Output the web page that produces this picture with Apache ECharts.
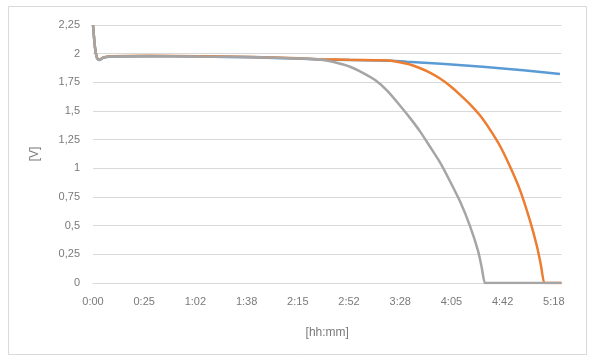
<!DOCTYPE html>
<html>
<head>
    <meta charset="utf-8">
    <script type="text/javascript" src="https://cdn.jsdelivr.net/npm/echarts@6/dist/echarts.min.js"></script>
    <style type="text/css">
        *{
            margin: 0;
            padding: 0;
        }
        #main{
            width: 597px;
            height: 362px;
            background: #ffffff;
        }
    </style>
</head>
<body>
    <div id="main"></div>
    <script type="text/javascript">
        // x = sample index (one tick label every 10 samples)
        var tickLabels = ['0:00', '0:25', '1:02', '1:38', '2:15', '2:52', '3:28', '4:05', '4:42', '5:18'];
        var yTicks = [0, 0.25, 0.5, 0.75, 1, 1.25, 1.5, 1.75, 2, 2.25];

        var blue = [
            [0, 2.25], [0.4, 2.05], [0.8, 1.96], [1.2, 1.945], [2, 1.963], [3.3, 1.974],
            [11, 1.978], [21, 1.975], [31, 1.968], [40, 1.957], [44, 1.95], [50, 1.945],
            [56, 1.94], [60, 1.934], [61.3, 1.93], [68, 1.912], [76.1, 1.886], [84, 1.856], [91.2, 1.822]
        ];
        var orange = [
            [0, 2.25], [0.4, 2.05], [0.8, 1.962], [1.2, 1.948], [2, 1.966], [3.3, 1.977],
            [11, 1.982], [21, 1.978], [31, 1.972], [40, 1.96], [44, 1.952], [50, 1.946],
            [55, 1.942], [58, 1.94], [59.9, 1.925], [61.9, 1.905], [63.8, 1.875], [65.8, 1.835],
            [67.7, 1.785], [69.7, 1.72], [71.6, 1.645], [73.6, 1.56], [75.6, 1.46], [77.5, 1.34],
            [79.5, 1.195], [81.4, 1.02], [83.4, 0.81], [85.3, 0.55], [86.7, 0.32], [87.5, 0.15],
            [88.1, 0], [88.2, 0], [91.5, 0]
        ];
        var gray = [
            [0, 2.25], [0.4, 2.05], [0.8, 1.96], [1.2, 1.945], [2, 1.965], [3.3, 1.975],
            [11, 1.98], [21, 1.975], [31, 1.97], [40, 1.958], [44.3, 1.95], [47.2, 1.925],
            [50.2, 1.886], [52.6, 1.835], [55.1, 1.77], [57.5, 1.675], [59.9, 1.55], [61.9, 1.44],
            [63.9, 1.32], [65.8, 1.19], [67.8, 1.05], [69.7, 0.89], [71.7, 0.71], [73.6, 0.5],
            [75.2, 0.28], [75.9, 0.14], [76.5, 0], [76.6, 0], [91.5, 0]
        ];

        var myChart = echarts.init(document.getElementById('main'));
        var labelFont = 'Liberation Sans';
        var option = {
            backgroundColor: '#ffffff',
            animation: false,
            graphic: [{
                type: 'rect',
                shape: {x: 8.5, y: 6.5, width: 578, height: 348},
                style: {fill: 'none', stroke: '#d9d9d9', lineWidth: 1}
            }],
            grid: {
                left: 93,
                right: 35.5,
                top: 25,
                bottom: 79
            },
            xAxis: {
                type: 'value',
                min: 0,
                max: 91.5,
                interval: 10,
                name: '[hh:mm]',
                nameLocation: 'middle',
                nameGap: 44,
                nameTextStyle: {color: '#7a7a7a', fontSize: 12, fontFamily: labelFont},
                axisLine: {show: true, lineStyle: {color: '#d9d9d9', width: 1}},
                axisTick: {show: false},
                splitLine: {show: false},
                axisLabel: {
                    color: '#7a7a7a',
                    fontSize: 11,
                    fontFamily: labelFont,
                    margin: 13,
                    formatter: function (v) {
                        var i = Math.round(v / 10);
                        return (Math.abs(v - i * 10) < 0.01 && tickLabels[i]) ? tickLabels[i] : '';
                    }
                }
            },
            yAxis: {
                type: 'value',
                min: yTicks[0],
                max: yTicks[yTicks.length - 1],
                interval: 0.25,
                name: '[V]',
                nameLocation: 'middle',
                nameGap: 52,
                nameTextStyle: {color: '#7a7a7a', fontSize: 12, fontFamily: labelFont},
                axisLine: {show: false},
                axisTick: {show: false},
                splitLine: {lineStyle: {color: '#d9d9d9', width: 1}},
                axisLabel: {
                    color: '#7a7a7a',
                    fontSize: 11,
                    fontFamily: labelFont,
                    margin: 13,
                    formatter: function (v) {
                        return String(Math.round(v * 100) / 100).replace('.', ',');
                    }
                }
            },
            series: [
                {name: 'blue', type: 'line', data: blue, showSymbol: false, smooth: 0.2,
                    lineStyle: {color: '#5b9bd5', width: 2.5}},
                {name: 'orange', type: 'line', data: orange, showSymbol: false, smooth: 0.2,
                    lineStyle: {color: '#ed7d31', width: 2.5}},
                {name: 'gray', type: 'line', data: gray, showSymbol: false, smooth: 0.2,
                    lineStyle: {color: '#a5a5a5', width: 2.5}}
            ]
        };
        myChart.setOption(option);
    </script>
</body>
</html>
